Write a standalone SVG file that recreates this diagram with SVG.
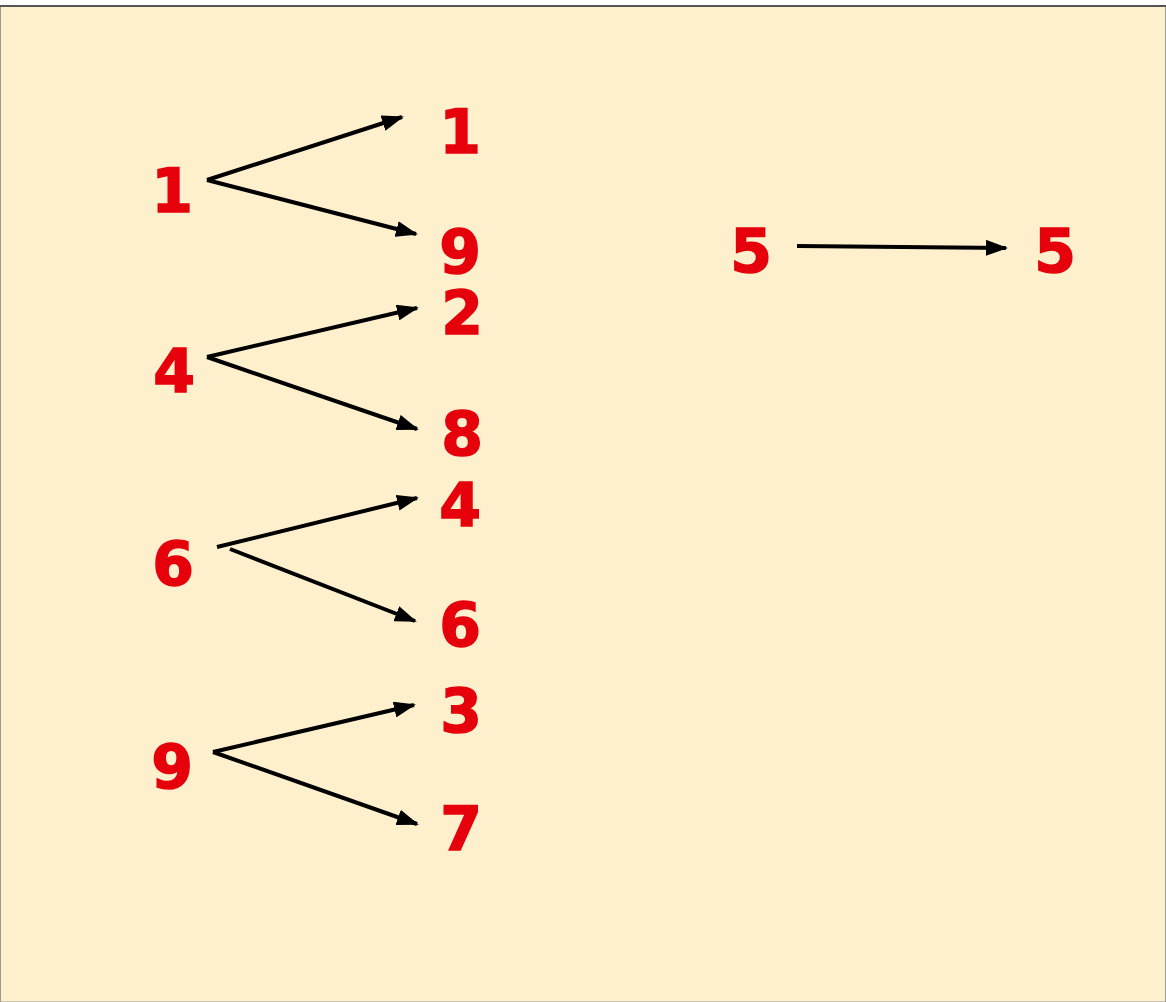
<svg xmlns="http://www.w3.org/2000/svg" width="1166" height="1002" viewBox="0 0 1166 1002">
<style>
.n{font-family:"DejaVu Sans",Verdana,sans-serif;font-weight:bold;font-size:60px;fill:#E5000B;stroke:#E5000B;stroke-width:1.5;text-anchor:middle}
.c{stroke:#000;stroke-width:4;fill:none;marker-end:url(#ah)}
</style>
<defs>
<marker id="ah" viewBox="0 0 11 8" refX="10" refY="4" markerWidth="5.5" markerHeight="4" orient="auto" markerUnits="strokeWidth">
<path d="M0,0 L11,4 L0,8 z" fill="#000"/>
</marker>
</defs>
<rect x="0" y="0" width="1166" height="1002" fill="#fff"/>
<rect x="0.5" y="6" width="1165" height="996" fill="#FFF0CD" stroke="#9a9a9a" stroke-width="1"/>
<line x1="0" y1="6" x2="1166" y2="6" stroke="#555" stroke-width="2"/>
<g id="connectors">
<line class="c" x1="207" y1="180" x2="402" y2="117"/>
<line class="c" x1="207" y1="180" x2="416" y2="234"/>
<line class="c" x1="207" y1="357" x2="417" y2="308"/>
<line class="c" x1="207" y1="357" x2="417" y2="429"/>
<line class="c" x1="217" y1="547" x2="417" y2="498"/>
<line class="c" x1="230" y1="549" x2="415" y2="621"/>
<line class="c" x1="213" y1="752" x2="414" y2="705"/>
<line class="c" x1="213" y1="752" x2="417" y2="824"/>
<line class="c" x1="797" y1="246" x2="1006" y2="248"/>
</g>
<g id="n-l1"><text class="n" x="172" y="212">1</text></g>
<g id="n-r1"><text class="n" x="460" y="153">1</text></g>
<g id="n-r9"><text class="n" x="460" y="273">9</text></g>
<g id="n-l4"><text class="n" x="174" y="392">4</text></g>
<g id="n-r2"><text class="n" x="462" y="334">2</text></g>
<g id="n-r8"><text class="n" x="462" y="455">8</text></g>
<g id="n-l6"><text class="n" x="173" y="585">6</text></g>
<g id="n-r4"><text class="n" x="460" y="526">4</text></g>
<g id="n-r6"><text class="n" x="460" y="646">6</text></g>
<g id="n-l9"><text class="n" x="172" y="788">9</text></g>
<g id="n-r3"><text class="n" x="461" y="732">3</text></g>
<g id="n-r7"><text class="n" x="461" y="850">7</text></g>
<g id="n-l5"><text class="n" x="751" y="272">5</text></g>
<g id="n-r5"><text class="n" x="1055" y="272">5</text></g>
</svg>
